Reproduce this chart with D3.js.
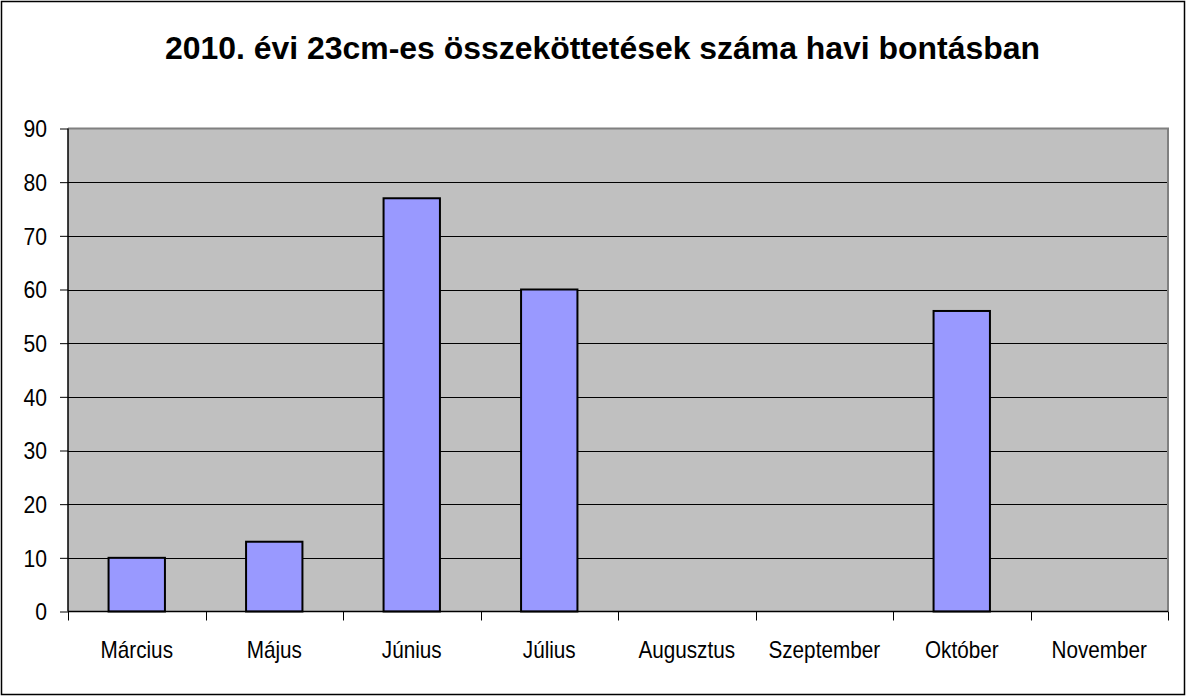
<!DOCTYPE html>
<html><head><meta charset="utf-8">
<script src="https://cdn.jsdelivr.net/npm/d3@7/dist/d3.min.js"></script>
<style>body{margin:0;background:#fff}svg{display:block}</style>
</head><body>
<svg id="c" width="1188" height="696"></svg>
<script>
const categories = ["Március","Május","Június","Július","Augusztus","Szeptember","Október","November"];
const values = [10, 13, 77, 60, 0, 0, 56, 0];
const yTicks = [0,10,20,30,40,50,60,70,80,90];
const title = "2010. évi 23cm-es összeköttetések száma havi bontásban";

const svg = d3.select("#c");
const L = 68, R = 1168, T = 128.5, B = 611.5;
const font = "'Liberation Sans', Arial, sans-serif";

svg.append("rect").attr("x",1.5).attr("y",1.5).attr("width",1183).attr("height",693)
  .attr("fill","#fff").attr("stroke","#000").attr("stroke-width",1.5);

const x = d3.scaleBand().domain(categories).range([L,R]).padding(0);
const y = d3.scaleLinear().domain([0,90]).range([B,T]);

svg.append("rect").attr("x",L).attr("y",T).attr("width",R-L).attr("height",B-T).attr("fill","#C0C0C0");

// gridlines
svg.append("g").selectAll("line").data(yTicks.filter(d=>d>0 && d<90)).join("line")
  .attr("x1",L).attr("x2",R).attr("y1",d=>Math.round(y(d))+0.5).attr("y2",d=>Math.round(y(d))+0.5)
  .attr("stroke","#000").attr("stroke-width",1);

// plot border top/right gray
svg.append("path").attr("d",`M${L},${T} H${R} V${B}`).attr("fill","none")
  .attr("stroke","#808080").attr("stroke-width",2);

// bars
const bw = x.bandwidth()*0.41;
svg.append("g").selectAll("rect").data(categories.map((c,i)=>({c,v:values[i]})).filter(d=>d.v>0)).join("rect")
  .attr("x",d=>x(d.c)+x.bandwidth()/2-bw/2).attr("width",bw)
  .attr("y",d=>y(d.v)).attr("height",d=>B-y(d.v))
  .attr("fill","#9999FF").attr("stroke","#000").attr("stroke-width",2);

// y axis
const ya = svg.append("g").attr("transform",`translate(${L},0)`)
  .call(d3.axisLeft(y).tickValues(yTicks).tickSize(8).tickPadding(13).tickFormat(d3.format("d")));
ya.select(".domain").attr("d",`M0,${T}V${B}`).attr("stroke","#000").attr("stroke-width",1.5);
ya.selectAll(".tick line").attr("stroke","#000").attr("stroke-width",1);
ya.selectAll(".tick text").attr("font-family",font).attr("font-size",23).attr("fill","#000")
  .attr("dy","0.36em").attr("transform","scale(0.92,1)").attr("x",-21/0.92);

// x axis
const xa = svg.append("g").attr("transform",`translate(0,${B})`)
  .call(d3.axisBottom(x).tickSize(0).tickPadding(0));
xa.select(".domain").attr("d",`M${L},0H${R}`).attr("stroke","#000").attr("stroke-width",1.5);
xa.selectAll(".tick text").attr("font-family",font).attr("font-size",23).attr("fill","#000")
  .attr("y",47).attr("dy",0).attr("transform","scale(0.9,1)");
// category boundary ticks
const bounds = categories.map(c=>x(c)).concat([R]);
svg.append("g").selectAll("line").data(bounds).join("line")
  .attr("x1",d=>Math.round(d)+0.5).attr("x2",d=>Math.round(d)+0.5)
  .attr("y1",B).attr("y2",B+9).attr("stroke","#000").attr("stroke-width",1);

svg.append("text").attr("x",602.5).attr("y",59).attr("text-anchor","middle")
  .attr("font-family",font).attr("font-weight","bold").attr("font-size",31)
  .attr("textLength",875).attr("lengthAdjust","spacingAndGlyphs").attr("fill","#000").text(title);
</script>
</body></html>
